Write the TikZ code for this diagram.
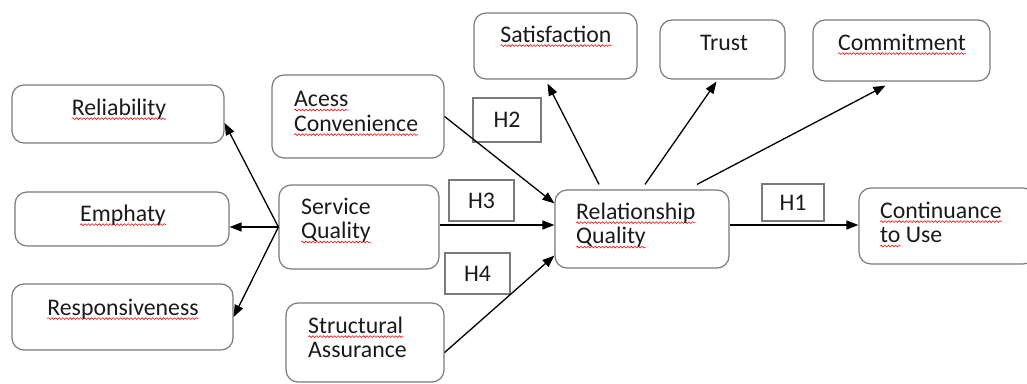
\documentclass[tikz,border=0pt]{standalone}
\usepackage{fontspec}
\setmainfont{Carlito}
\usetikzlibrary{arrows.meta,calc,decorations.pathmorphing}
\definecolor{boxgray}{HTML}{7A7A7A}
\definecolor{txt}{HTML}{1A1A1A}
\newdimen\rwd
\newcommand\rw[1]{\setbox0\hbox{#1}\rwd=\wd0\rlap{\tikz[overlay,baseline=0pt]\draw[red,line width=0.55pt,decorate,decoration={snake,amplitude=0.9pt,segment length=3.6pt}] (0pt,-3.6pt) -- (\rwd,-3.6pt);}\box0\relax}
\newcommand\fs{\fontsize{23.8}{24.5}\selectfont}
\begin{document}
\begin{tikzpicture}[x=1pt,y=-1pt,
  box/.style={draw=boxgray, line width=1.2pt, rounded corners=12pt, inner sep=0pt},
  hbox/.style={draw=boxgray, line width=1.2pt, inner sep=0pt, font=\fs, text=txt},
  lbl/.style={inner sep=0pt, font=\fs, text=txt, align=left},
  arr/.style={line width=1.3pt, draw=black, -{Triangle[length=12pt,width=9pt]}}]
\clip (0,0) rectangle (1027,383);
% boxes
\node[box, minimum width=212pt, minimum height=58pt] (reli) at (118,114) {};
\node[box, minimum width=214pt, minimum height=54pt] (emph) at (122,219) {};
\node[box, minimum width=221pt, minimum height=66pt] (resp) at (122.5,317) {};
\node[box, minimum width=172pt, minimum height=83pt] (acc) at (358,116.5) {};
\node[box, minimum width=160pt, minimum height=84pt] (serv) at (359,227) {};
\node[box, minimum width=158pt, minimum height=79pt] (stru) at (365,342.5) {};
\node[box, minimum width=163pt, minimum height=66pt] (sat) at (555.5,46) {};
\node[box, minimum width=125pt, minimum height=59pt] (trust) at (722.5,49.5) {};
\node[box, minimum width=177pt, minimum height=61pt] (comm) at (901.5,50.5) {};
\node[box, minimum width=174pt, minimum height=78pt] (rel) at (642,229) {};
\node[box, minimum width=176pt, minimum height=76pt] (cont) at (947,226) {};
% hypothesis boxes
\node[hbox, minimum width=68pt, minimum height=44pt] (h2) at (507,120) {H2};
\node[hbox, minimum width=65pt, minimum height=41pt] (h3) at (481.5,200.5) {H3};
\node[hbox, minimum width=65pt, minimum height=41pt] (h4) at (477.5,273.5) {H4};
\node[hbox, minimum width=62pt, minimum height=37pt] (h1) at (793,202.5) {H1};
% labels (two-line labels are anchored at the baseline of their last line)
\node[lbl, anchor=base] (reli-t) at (119,115) {\rw{Reliability}};
\node[lbl, anchor=base] (emph-t) at (123,221) {\rw{Emphaty}};
\node[lbl, anchor=base] (resp-t) at (123,315) {\rw{Responsiveness}};
\node[lbl, anchor=base west] (acc-t) at (294,131) {\rw{Acess}\\\rw{Convenience}};
\node[lbl, anchor=base west] (serv-t) at (301,238.5) {Service\\\rw{Quality}};
\node[lbl, anchor=base west] (stru-t) at (308,357.5) {\rw{Structural}\\Assurance};
\node[lbl, anchor=base] (sat-t) at (556,42) {\rw{Satisfaction}};
\node[lbl, anchor=base] (trust-t) at (724,50) {Trust};
\node[lbl, anchor=base] (comm-t) at (902,50) {\rw{Commitment}};
\node[lbl, anchor=base west] (rel-t) at (576,243.5) {\rw{Relationship}\\\rw{Quality}};
\node[lbl, anchor=base west] (cont-t) at (880,242.5) {\rw{Continuance}\\\rw{to} Use};
% connectors
\draw[arr] (serv.west) -- ([yshift=-9pt]reli.east);
\draw[arr] (serv.west) -- (serv.west -| emph.east);
\draw[arr] (serv.west) -- (resp.east);
\draw[arr] (acc.east) -- ([yshift=-14pt]rel.north west);
\draw[arr] ([yshift=2pt]serv.east) -- ([yshift=2pt]serv.east -| rel.west);
\draw[arr] ([yshift=-10pt]stru.east) -- ([yshift=13pt]rel.south west);
\draw[arr] ([xshift=-43pt,yshift=5pt]rel.north) -- ([xshift=-8pt,yshift=-4pt]sat.south);
\draw[arr] ([xshift=3pt,yshift=5pt]rel.north) -- ([xshift=-6pt,yshift=-2pt]trust.south);
\draw[arr] ([xshift=55pt,yshift=5pt]rel.north) -- ([xshift=-16pt,yshift=-4pt]comm.south);
\draw[arr] ([yshift=4pt]rel.east) -- ([yshift=4pt]rel.east -| cont.west);
\end{tikzpicture}
\end{document}
